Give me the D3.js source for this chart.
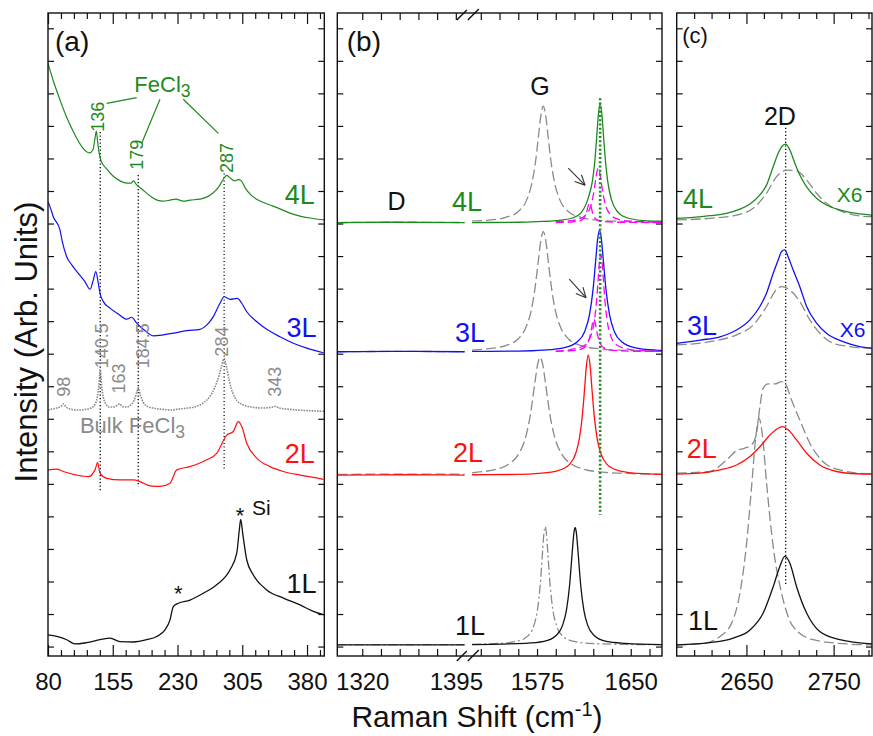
<!DOCTYPE html>
<html>
<head>
<meta charset="utf-8">
<script src="https://cdn.jsdelivr.net/npm/d3@7"></script>
<style>
  body { margin: 0; background: #fff; }
  text { font-family: "Liberation Sans", Arial, Helvetica, sans-serif; }
</style>
</head>
<body>
<svg id="chart" width="873" height="736"></svg>
<script>
// ---------------- spectra: [Raman shift (cm^-1), intensity (arb. units, offset)] ----------------

// (a) low-frequency region
const low4L = [[80,17.93],[85.8,17.41],[93.9,16.80],[102,16.24],[111.3,15.72],[120.5,15.32],[128,15.17],[132,15.26],[134.5,15.63],[136,15.84],[137.5,15.50],[139,15.20],[141.5,14.92],[147.2,14.70],[155.3,14.46],[163.4,14.31],[171.5,14.24],[176,14.24],[179,14.31],[182,14.21],[190,14.03],[198.2,13.85],[206.3,13.72],[213.2,13.69],[221.3,13.72],[228.3,13.75],[236.4,13.69],[244.5,13.72],[256.1,13.75],[264.2,13.82],[271,13.94],[277.5,14.12],[282.4,14.33],[287,14.48],[291.5,14.39],[296,14.31],[300.5,14.35],[304,14.31],[308.5,14.09],[315,13.88],[325.6,13.69],[337.2,13.57],[348.7,13.45],[360.3,13.32],[371.9,13.23],[383.5,13.17],[400,13.11]];
const low3L = [[80,13.67],[82.3,13.52],[86.1,13.21],[93.9,12.80],[96.5,12.45],[101.7,11.98],[107.5,11.73],[115.1,11.47],[122.9,11.21],[128.7,10.98],[132.5,11.27],[135.3,11.52],[138.3,11.16],[140.2,10.86],[144.1,10.60],[151.8,10.40],[161.4,10.22],[171.2,10.06],[177,10.12],[182.7,9.94],[190.4,9.75],[202,9.55],[213.6,9.58],[225.1,9.63],[240.7,9.71],[256.1,9.75],[263.8,9.88],[271.5,10.14],[279.2,10.55],[283.9,10.75],[290.8,10.67],[299.3,10.70],[304.4,10.55],[310.2,10.29],[321.8,9.98],[333.3,9.75],[348.7,9.52],[364.1,9.32],[379.7,9.17],[398.9,9.03]];
const lowBulk = [[80,7.27],[85,7.30],[90,7.33],[95,7.38],[98,7.46],[101,7.36],[106,7.30],[112,7.27],[118,7.27],[124,7.29],[130,7.33],[134,7.43],[137,7.65],[139,8.04],[140.5,8.52],[142,8.04],[144,7.67],[147,7.46],[151,7.36],[156,7.36],[160,7.41],[163,7.46],[166,7.38],[171,7.36],[176,7.43],[180,7.58],[182.5,7.79],[184.5,7.95],[187,7.73],[190,7.52],[195,7.38],[202,7.33],[212,7.29],[222,7.27],[232,7.30],[242,7.33],[252,7.38],[260,7.49],[267,7.67],[273,7.95],[278,8.32],[281,8.62],[284,8.85],[287,8.56],[290,8.16],[294,7.79],[299,7.55],[306,7.43],[316,7.36],[328,7.33],[338,7.35],[343,7.38],[348,7.33],[360,7.29],[375,7.26],[390,7.24],[400,7.23]];
const low2L = [[80,5.43],[90.1,5.45],[97.7,5.38],[113.2,5.27],[126.7,5.22],[134.4,5.43],[137.5,5.65],[140.2,5.33],[148,5.17],[163.4,5.12],[178.8,5.12],[186.6,5.07],[198.2,4.94],[209.7,4.92],[221.3,5.02],[229.1,5.43],[244.5,5.53],[263.8,5.74],[275.4,5.94],[287,6.50],[294.6,6.61],[300.4,6.91],[304.4,6.76],[310.2,6.25],[321.8,5.79],[337.2,5.53],[352.6,5.38],[371.9,5.27],[387.3,5.20],[398.9,5.14]];
const low1L = [[80,0.36],[90.1,0.31],[101.7,0.21],[111.3,0.08],[124.8,0.12],[140.2,0.21],[151.8,0.26],[163.4,0.15],[178.8,0.14],[194.3,0.21],[205.9,0.31],[215.5,0.51],[221.3,0.82],[225.1,1.23],[230.9,1.33],[244.5,1.43],[259.9,1.64],[275.4,1.90],[290.8,2.36],[298.6,2.87],[301.6,3.59],[303.2,3.91],[305.5,3.48],[310.2,2.66],[317.8,2.20],[333.3,1.74],[352.6,1.49],[371.9,1.28],[387.3,1.08],[400,0.97]];

// (b) D / G region (broken axis), pristine references and fitted components
const g4Ref = [[1300,13.03],[1350,13.04],[1402,13.03],[1523,13.08],[1535,13.10],[1550,13.19],[1560,13.37],[1567,13.75],[1571,14.26],[1574,14.96],[1576,15.63],[1578,16.30],[1580,16.61],[1582,16.30],[1584,15.63],[1586,14.96],[1589,14.26],[1593,13.75],[1600,13.37],[1610,13.19],[1625,13.10],[1640,13.07],[1675,13.05]];
const g4L = [[1300,13.03],[1340,13.04],[1402,13.03],[1523,13.03],[1560,13.04],[1575.5,13.06],[1590.5,13.09],[1603.5,13.17],[1610,13.32],[1614.5,13.62],[1616.5,13.85],[1619.5,14.35],[1621.1,14.86],[1622.5,15.53],[1624,16.31],[1625.5,16.69],[1627,16.31],[1628.5,15.53],[1629.9,14.86],[1631.5,14.31],[1634.5,13.74],[1639.5,13.36],[1647.5,13.17],[1660.5,13.09],[1675,13.07]];
const g4FitA = [[1590,13.03],[1600,13.04],[1608,13.07],[1612,13.14],[1614.5,13.32],[1616,13.55],[1617,13.62],[1618,13.55],[1619.5,13.32],[1622,13.14],[1626,13.07],[1640,13.04],[1675,13.03]];
const g4FitB = [[1590,13.06],[1600,13.08],[1608,13.13],[1615,13.31],[1618,13.54],[1620,13.87],[1622,14.37],[1623,14.60],[1624,14.70],[1625,14.60],[1626,14.37],[1628,13.87],[1630,13.54],[1633,13.31],[1640,13.13],[1648,13.08],[1675,13.04]];
const g3Ref = [[1300,9.06],[1350,9.07],[1402,9.06],[1523,9.11],[1535,9.15],[1550,9.25],[1560,9.46],[1566,9.80],[1570,10.27],[1573,10.91],[1576,11.84],[1578,12.47],[1580,12.75],[1582,12.47],[1584,11.84],[1587,10.91],[1590,10.27],[1594,9.80],[1600,9.46],[1610,9.25],[1625,9.15],[1640,9.11],[1675,9.08]];
const g3L = [[1300,9.06],[1345,9.07],[1402,9.06],[1523,9.07],[1560,9.08],[1580,9.11],[1597,9.19],[1607,9.36],[1613,9.67],[1617,10.20],[1619.7,10.93],[1622,11.89],[1623.5,12.52],[1625,12.80],[1626.5,12.52],[1628,11.89],[1630.3,10.93],[1633,10.20],[1637,9.67],[1643,9.36],[1653,9.19],[1670,9.11],[1675,9.10]];
const g3FitA = [[1590,9.07],[1605.5,9.10],[1612.5,9.18],[1615.5,9.32],[1617.5,9.56],[1618.5,9.75],[1619.5,9.96],[1620.5,10.06],[1621.5,9.96],[1622.5,9.75],[1623.5,9.56],[1625.5,9.32],[1628.5,9.18],[1635.5,9.10],[1660,9.07],[1675,9.07]];
const g3FitB = [[1590,9.08],[1601,9.12],[1613,9.26],[1618,9.54],[1621,10.05],[1622.5,10.56],[1624,11.32],[1625,11.84],[1626,12.06],[1627,11.84],[1628,11.32],[1629.5,10.56],[1631,10.05],[1634,9.54],[1639,9.26],[1651,9.12],[1675,9.07]];
const g2Ref = [[1300,5.29],[1350,5.30],[1402,5.30],[1523,5.34],[1527.5,5.36],[1542.5,5.45],[1552.5,5.61],[1560.5,5.93],[1565.5,6.38],[1569.5,7.08],[1573.5,8.17],[1575.5,8.68],[1577.5,8.89],[1579.5,8.68],[1581.5,8.17],[1585.5,7.08],[1589.5,6.38],[1594.5,5.93],[1602.5,5.61],[1612.5,5.45],[1627.5,5.36],[1647.5,5.32],[1675,5.29]];
const g2L = [[1300,5.27],[1350,5.28],[1402,5.27],[1523,5.28],[1560,5.29],[1576,5.32],[1592,5.41],[1601,5.60],[1606,5.94],[1609,6.42],[1611.3,7.12],[1613,7.89],[1614.5,8.62],[1616,8.96],[1617.5,8.62],[1619,7.89],[1620.7,7.12],[1623,6.42],[1626,5.94],[1631,5.60],[1640,5.41],[1656,5.32],[1675,5.29]];
const g1Ref = [[1300,0.06],[1350,0.06],[1402,0.06],[1523,0.07],[1546.5,0.10],[1559.5,0.17],[1567.5,0.32],[1572.5,0.65],[1575.5,1.17],[1577.5,1.87],[1579.5,2.96],[1580.5,3.48],[1581.5,3.69],[1582.5,3.48],[1583.5,2.96],[1585.5,1.87],[1587.5,1.17],[1590.5,0.65],[1595.5,0.32],[1603.5,0.17],[1616.5,0.10],[1640,0.07],[1675,0.06]];
const g1L = [[1300,0.05],[1350,0.05],[1402,0.05],[1523,0.06],[1565.5,0.10],[1580.5,0.16],[1590.5,0.35],[1595.5,0.66],[1598.5,1.11],[1601,1.86],[1603.5,3.06],[1604.5,3.49],[1605.5,3.66],[1606.5,3.49],[1607.5,3.06],[1610,1.86],[1612.5,1.11],[1615.5,0.66],[1620.5,0.35],[1630.5,0.16],[1645.5,0.10],[1675,0.06]];

// (c) 2D region
const d4L = [[2570,13.16],[2589,13.19],[2608,13.24],[2627,13.31],[2642.5,13.44],[2654,13.60],[2665.4,13.88],[2673,14.18],[2680.7,14.75],[2686.4,15.16],[2691.4,15.39],[2695.2,15.44],[2699.8,15.26],[2705.5,14.85],[2711.2,14.49],[2719,14.13],[2730.4,13.78],[2741.8,13.57],[2757,13.42],[2776,13.31],[2794,13.26]];
const d4Ref = [[2570,13.11],[2608,13.16],[2638.7,13.26],[2657.7,13.47],[2673,13.93],[2684.5,14.44],[2696,14.64],[2707.5,14.62],[2719,14.34],[2730.4,13.93],[2741.8,13.62],[2760.8,13.36],[2791.4,13.21],[2794,13.21]];
const d3L = [[2570,9.32],[2596.7,9.42],[2619.6,9.52],[2638.7,9.73],[2654,10.04],[2665.4,10.45],[2673,10.86],[2680.7,11.47],[2686.4,11.88],[2690.3,12.14],[2694,12.19],[2697.8,11.98],[2703.6,11.57],[2711.2,11.06],[2719,10.45],[2730.4,9.94],[2741.8,9.63],[2760.8,9.37],[2780,9.22],[2794,9.17]];
const d3Ref = [[2570,9.27],[2608,9.37],[2638.7,9.58],[2657.7,9.88],[2673,10.45],[2682.6,10.91],[2690.3,11.06],[2699.8,10.96],[2711.2,10.60],[2722.7,10.04],[2734.1,9.63],[2749.4,9.32],[2768.5,9.22],[2791.4,9.17],[2794,9.17]];
const d2L = [[2570,5.30],[2596.7,5.33],[2619.6,5.43],[2638.7,5.58],[2654,5.84],[2665.4,6.14],[2676.9,6.50],[2686.4,6.71],[2691.4,6.76],[2697.8,6.66],[2707.5,6.35],[2719,5.94],[2734.1,5.58],[2753.3,5.38],[2776.2,5.31],[2794,5.30]];
const d2Ref = [[2570,5.33],[2608,5.38],[2627.3,5.74],[2638.7,6.02],[2648.2,6.10],[2655.9,6.20],[2661.6,6.56],[2665.4,7.37],[2669.2,7.94],[2675,8.07],[2682.6,8.07],[2690.3,8.14],[2695.2,8.04],[2701.7,7.58],[2711.2,6.96],[2722.7,6.25],[2737.9,5.68],[2757,5.43],[2791.4,5.31],[2794,5.31]];
const d1L = [[2570,0.05],[2608,0.12],[2634.8,0.26],[2654,0.51],[2669.2,1.03],[2680.7,1.84],[2688.3,2.46],[2694,2.77],[2699.8,2.56],[2707.5,1.84],[2719,1.03],[2734.1,0.46],[2757,0.21],[2794,0.08]];
const d1Ref = [[2570,0.05],[2600.5,0.10],[2619.6,0.31],[2633,0.72],[2642.5,1.64],[2650.2,3.18],[2655.9,4.92],[2660.8,6.45],[2664.3,7.02],[2668.5,6.45],[2673.1,5.02],[2680.7,3.07],[2690.3,1.64],[2703.6,0.61],[2726.5,0.21],[2764.7,0.08],[2794,0.05]];

// peak positions marked in (a)
const fecl3Peaks = [136, 179, 287];
const bulkPeaks = [98, 140.5, 163, 184.5, 284, 343];
const bulkLines = [140.5, 184.5, 284];

// axis ticks
const ticksA = [80, 155, 230, 305, 380];
const minorA = [95,110,125,140,170,185,200,215,245,260,275,290,320,335,350,365,395];
const ticksB = [1320, 1395, 1575, 1650];
const minorB = [1335,1350,1365,1380,1530,1545,1560,1590,1605,1620,1635,1665];
const ticksC = [2650, 2750];
const minorC = [2590,2610,2630,2670,2690,2710,2730,2770,2790];
const yTicks = [0,1,2,3,4,5,6,7,8,9,10,11,12,13,14,15,16,17,18,19];

// ---------------- layout ----------------
const svg = d3.select("#chart");
const TOP = 13, BOT = 656;
const y = d3.scaleLinear().domain([-0.29, 19.47]).range([BOT, TOP]);

const GREEN = "#1c8a1c", BLUE = "#1010f5", RED = "#ff1010", MAG = "#ff00ff", GREY = "#8a8a8a";

const panels = {
  a: { x: d3.scaleLinear().domain([80, 400]).range([48, 324.3]), segs: [[80, 400]] },
  b: { x: d3.scaleLinear().domain([1300, 1405, 1520, 1675]).range([337.3, 468.3, 468.3, 662]), segs: [[1300, 1405], [1520, 1675]] },
  c: { x: d3.scaleLinear().domain([2570, 2794]).range([676.7, 872]), segs: [[2570, 2794]] }
};

const defs = svg.append("defs");
Object.entries(panels).forEach(([k, p]) => {
  const [x0, x1] = [p.x.range()[0], p.x.range()[p.x.range().length - 1]];
  p.x0 = x0; p.x1 = x1;
  defs.append("clipPath").attr("id", "clip-" + k)
    .append("rect").attr("x", x0).attr("y", TOP).attr("width", x1 - x0).attr("height", BOT - TOP);
  p.g = svg.append("g");
  p.plot = p.g.append("g").attr("clip-path", `url(#clip-${k})`);
});

function drawSeries(p, data, color, opts = {}) {
  const line = d3.line().x(d => p.x(d[0])).y(d => y(d[1])).curve(d3.curveMonotoneX);
  p.segs.forEach(([lo, hi]) => {
    const pts = data.filter(d => d[0] >= lo && d[0] <= hi);
    if (pts.length < 2) return;
    p.plot.append("path").datum(pts)
      .attr("d", line)
      .attr("fill", "none")
      .attr("stroke", color)
      .attr("stroke-width", opts.width || 1.2)
      .attr("stroke-dasharray", opts.dash || null)
      .attr("stroke-linejoin", "round");
  });
}

function vline(p, xv, y0, y1, color, width, dash) {
  p.plot.append("line")
    .attr("x1", p.x(xv)).attr("x2", p.x(xv))
    .attr("y1", y(y0)).attr("y2", y(y1))
    .attr("stroke", color).attr("stroke-width", width).attr("stroke-dasharray", dash);
}

function label(p, s, xv, yv, size, color, anchor = "start") {
  return p.g.append("text")
    .attr("x", p.x(xv)).attr("y", y(yv))
    .attr("font-size", size).attr("fill", color).attr("text-anchor", anchor)
    .text(s);
}

function vlabel(p, s, xv, yv, size, color) {
  return p.g.append("text")
    .attr("transform", `translate(${p.x(xv)},${y(yv)}) rotate(-90)`)
    .attr("dy", "0.35em")
    .attr("font-size", size).attr("fill", color)
    .text(s);
}

function withSub(t, base, sub) {
  t.text(null);
  t.append("tspan").text(base);
  t.append("tspan").attr("dy", "0.3em").attr("font-size", "0.8em").text(sub);
  return t;
}

// ---------------- panel (a) ----------------
const A = panels.a;
bulkLines.forEach(v => {
  const tops = { 140.5: 15.81, 184.5: 14.49, 284: 14.54 };
  const bots = { 140.5: 4.75, 184.5: 4.91, 284: 5.46 };
  vline(A, v, tops[v], bots[v], "#000", 1.3, "1.2,2.3");
});
drawSeries(A, low1L, "#111", { width: 1.3 });
drawSeries(A, low2L, RED);
drawSeries(A, lowBulk, GREY, { width: 1.6, dash: "1.6,1.1" });
drawSeries(A, low3L, BLUE);
drawSeries(A, low4L, GREEN);

// FeCl3 label and leader lines
withSub(label(A, "", 212.6, 17.04, 22, GREEN, "middle"), "FeCl", "3");
[[[148, 16.69], [182.7, 16.87]], [[209.7, 16.82], [188.5, 15.47]], [[236.7, 16.82], [277.3, 15.77]]].forEach(seg => {
  A.g.append("line")
    .attr("x1", A.x(seg[0][0])).attr("y1", y(seg[0][1]))
    .attr("x2", A.x(seg[1][0])).attr("y2", y(seg[1][1]))
    .attr("stroke", GREEN).attr("stroke-width", 1.2);
});
vlabel(A, String(fecl3Peaks[0]), 138, 15.82, 18, GREEN);
vlabel(A, String(fecl3Peaks[1]), 182.7, 14.65, 18, GREEN);
vlabel(A, String(fecl3Peaks[2]), 287, 14.55, 18, GREEN);

const bulkLabelPos = { 98: [98.5, 7.68], 140.5: [142.2, 8.55], 163: [162.2, 7.78], 184.5: [189.5, 8.55], 284: [281.2, 8.91], 343: [343, 7.68] };
bulkPeaks.forEach(v => vlabel(A, String(v), bulkLabelPos[v][0], bulkLabelPos[v][1], 18, GREY));
withSub(label(A, "", 117, 6.57, 22, GREY), "Bulk FeCl", "3");

label(A, "4L", 389, 13.60, 27, GREEN, "end");
label(A, "3L", 391, 9.51, 27, BLUE, "end");
label(A, "2L", 389, 5.64, 27, RED, "end");
label(A, "1L", 391, 1.65, 27, "#111", "end");
label(A, "*", 302.4, 3.81, 22, "#111", "middle");
label(A, "Si", 316.3, 4.05, 21, "#111");
label(A, "*", 231, 1.40, 22, "#111", "middle");

// ---------------- panel (b) ----------------
const B = panels.b;
drawSeries(B, g4Ref, GREY, { dash: "10,4", width: 1.3 });
drawSeries(B, g3Ref, GREY, { dash: "10,4", width: 1.3 });
drawSeries(B, g2Ref, GREY, { dash: "10,4", width: 1.3 });
drawSeries(B, g1Ref, GREY, { dash: "9,3,2,3", width: 1.3 });
drawSeries(B, g1L, "#111", { width: 1.3 });
drawSeries(B, g2L, RED, { width: 1.3 });
drawSeries(B, g3L, BLUE, { width: 1.3 });
drawSeries(B, g4L, GREEN, { width: 1.3 });
[g4FitA, g4FitB, g3FitA, g3FitB].forEach(d => drawSeries(B, d, MAG, { dash: "8,4", width: 1.3 }));
vline(B, 1625.5, 16.85, 4.05, GREEN, 2.6, "2,2.2");

// arrows pointing at the shoulder component
[[[1600, 14.70], [1613.4, 14.18]], [[1600.8, 11.29], [1614.2, 10.72]]].forEach(([t, h]) => {
  const x1 = B.x(t[0]), y1 = y(t[1]), x2 = B.x(h[0]), y2 = y(h[1]);
  const ang = Math.atan2(y2 - y1, x2 - x1);
  const g = B.g.append("g").attr("stroke", "#333").attr("stroke-width", 1.1).attr("fill", "none");
  g.append("line").attr("x1", x1).attr("y1", y1).attr("x2", x2).attr("y2", y2);
  [-0.45, 0.45].forEach(da => {
    g.append("line").attr("x1", x2).attr("y1", y2)
      .attr("x2", x2 - 11 * Math.cos(ang + da)).attr("y2", y2 - 11 * Math.sin(ang + da));
  });
});

label(B, "G", 1577.4, 16.95, 25, "#111", "middle");
label(B, "D", 1347.5, 13.42, 25, "#111", "middle");
label(B, "4L", 1531, 13.39, 27, GREEN, "end");
label(B, "3L", 1533.4, 9.37, 27, BLUE, "end");
label(B, "2L", 1531.8, 5.68, 27, RED, "end");
label(B, "1L", 1533.4, 0.36, 27, "#111", "end");

// ---------------- panel (c) ----------------
const C = panels.c;
vline(C, 2695, 15.94, 1.90, "#000", 1.3, "1.2,2.3");
drawSeries(C, d1Ref, GREY, { dash: "10,4", width: 1.3 });
drawSeries(C, d2Ref, GREY, { dash: "10,4", width: 1.3 });
drawSeries(C, d3Ref, GREY, { dash: "10,4", width: 1.3 });
drawSeries(C, d4Ref, GREY, { dash: "10,4", width: 1.3 });
drawSeries(C, d1L, "#111", { width: 1.3 });
drawSeries(C, d2L, RED, { width: 1.3 });
drawSeries(C, d3L, BLUE, { width: 1.3 });
drawSeries(C, d4L, GREEN, { width: 1.3 });

label(C, "2D", 2688.4, 16.03, 25, "#111", "middle");
label(C, "4L", 2577.2, 13.48, 27, GREEN);
label(C, "3L", 2581.8, 9.58, 27, BLUE);
label(C, "2L", 2581.5, 5.80, 27, RED);
label(C, "1L", 2583, 0.51, 27, "#111");
label(C, "X6", 2753.6, 13.67, 21, GREEN);
label(C, "X6", 2757, 9.52, 21, BLUE);

// ---------------- frames and axes ----------------
const fontFam = '"Liberation Sans", Arial, Helvetica, sans-serif';
function styleAxis(g) {
  g.select(".domain").remove();
  g.selectAll(".tick line").attr("stroke", "#111").attr("stroke-width", 1.2);
  g.attr("font-family", fontFam);
}

function axes(p, major, minor, majorLen, minorLen) {
  // bottom: labelled major ticks + minor ticks
  p.g.append("g").attr("transform", `translate(0,${BOT})`)
    .call(d3.axisBottom(p.x).tickValues(major).tickSize(-majorLen).tickPadding(17).tickFormat(d3.format("d")))
    .call(styleAxis)
    .call(g => g.selectAll("text").attr("font-size", 24).attr("fill", "#111"));
  p.g.append("g").attr("transform", `translate(0,${BOT})`)
    .call(d3.axisBottom(p.x).tickValues(minor).tickSize(-minorLen).tickFormat(""))
    .call(styleAxis);
  // top mirror
  p.g.append("g").attr("transform", `translate(0,${TOP})`)
    .call(d3.axisTop(p.x).tickValues(major).tickSize(-majorLen).tickFormat(""))
    .call(styleAxis);
  p.g.append("g").attr("transform", `translate(0,${TOP})`)
    .call(d3.axisTop(p.x).tickValues(minor).tickSize(-minorLen).tickFormat(""))
    .call(styleAxis);
  // left / right
  p.g.append("g").attr("transform", `translate(${p.x0},0)`)
    .call(d3.axisLeft(y).tickValues(yTicks).tickSize(-6).tickFormat(""))
    .call(styleAxis);
  p.g.append("g").attr("transform", `translate(${p.x1},0)`)
    .call(d3.axisRight(y).tickValues(yTicks).tickSize(-6).tickFormat(""))
    .call(styleAxis);
  p.g.append("rect")
    .attr("x", p.x0).attr("y", TOP).attr("width", p.x1 - p.x0).attr("height", BOT - TOP)
    .attr("fill", "none").attr("stroke", "#111").attr("stroke-width", 1.4);
}
axes(A, ticksA, minorA, 11, 6);
axes(B, ticksB, minorB, 7, 7);
axes(C, ticksC, minorC, 11, 6);

// axis break marks in (b)
const bx = B.x(1405);
[TOP + 2, BOT].forEach(cy => {
  [[-11.5, 5, -1.5, -5], [-0.5, 5, 10.5, -6]].forEach(([ax, ay, bx2, by]) => {
    B.g.append("line")
      .attr("x1", bx + ax).attr("y1", cy + ay).attr("x2", bx + bx2).attr("y2", cy + by)
      .attr("stroke", "#111").attr("stroke-width", 1.4);
  });
});

// panel letters
svg.append("text").attr("x", A.x0 + 7).attr("y", 51).attr("font-size", 28).attr("fill", "#111").text("(a)");
svg.append("text").attr("x", B.x0 + 9.5).attr("y", 51).attr("font-size", 28).attr("fill", "#111").text("(b)");
svg.append("text").attr("x", C.x0 + 5.5).attr("y", 43).attr("font-size", 22).attr("fill", "#111").text("(c)");

// axis titles
svg.append("text")
  .attr("transform", "translate(37,342) rotate(-90)")
  .attr("text-anchor", "middle").attr("font-size", 31).attr("fill", "#111")
  .text("Intensity (Arb. Units)");
const xt = svg.append("text").attr("x", 477).attr("y", 727)
  .attr("text-anchor", "middle").attr("font-size", 30).attr("fill", "#111");
xt.append("tspan").text("Raman Shift (cm");
xt.append("tspan").attr("dy", -11).attr("font-size", 20).text("-1");
xt.append("tspan").attr("dy", 11).text(")");
</script>
</body>
</html>
